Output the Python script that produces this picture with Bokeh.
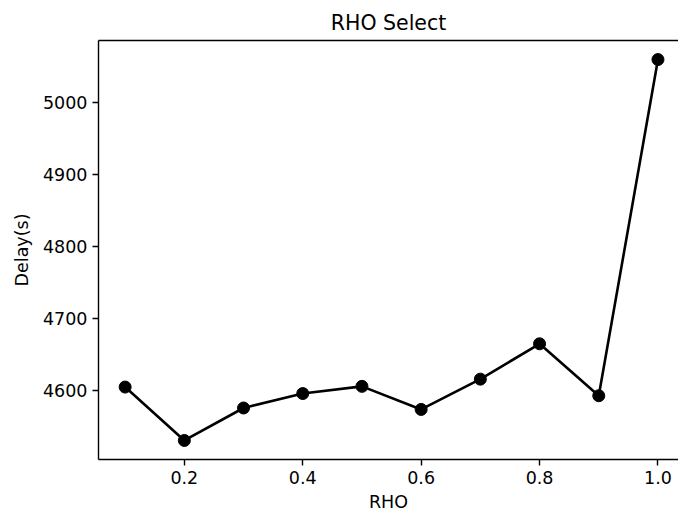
from bokeh.plotting import figure
from bokeh.models import Range1d, FixedTicker, LinearAxis
from bokeh.embed import file_html
from bokeh.resources import INLINE

rho = [0.1, 0.2, 0.3, 0.4, 0.5, 0.6, 0.7, 0.8, 0.9, 1.0]
delay = [4605, 4531, 4576, 4596, 4606, 4574, 4616, 4665, 4593, 5059]
x_ticks = [0.2, 0.4, 0.6, 0.8, 1.0]
x_tick_labels = ["0.2", "0.4", "0.6", "0.8", "1.0"]
y_ticks = [4600, 4700, 4800, 4900, 5000]
y_tick_labels = ["4600", "4700", "4800", "4900", "5000"]

FONT = "DejaVu Sans"

p = figure(width=678, height=516, output_backend="svg", toolbar_location=None,
           x_range=Range1d(0.055, 1.0347), y_range=Range1d(4504.6, 5085.4),
           min_border_left=98, min_border_right=0, min_border_top=40, min_border_bottom=57,
           title="RHO Select")
p.title.align = "center"
p.title.text_font = FONT
p.title.text_font_size = "20.5px"
p.title.text_font_style = "normal"
p.title.text_color = "black"
p.title.offset = 4
p.title.standoff = 12

p.grid.visible = False
p.outline_line_color = None
p.background_fill_color = "white"
p.border_fill_color = "white"

for ax in (p.xaxis[0], p.yaxis[0]):
    ax.axis_line_color = "black"
    ax.axis_line_width = 1.4
    ax.major_tick_line_color = "black"
    ax.major_tick_line_width = 1.4
    ax.major_tick_out = 6
    ax.major_tick_in = 0
    ax.minor_tick_line_color = None
    ax.major_label_text_font = FONT
    ax.major_label_text_font_size = "17.5px"
    ax.major_label_text_color = "black"
    ax.axis_label_text_font = FONT
    ax.axis_label_text_font_size = "17.5px"
    ax.axis_label_text_font_style = "normal"
    ax.axis_label_text_color = "black"
    ax.major_label_standoff = 5

p.xaxis[0].ticker = FixedTicker(ticks=x_ticks)
p.xaxis[0].major_label_overrides = dict(zip(x_ticks, x_tick_labels))
p.yaxis[0].ticker = FixedTicker(ticks=y_ticks)
p.yaxis[0].major_label_overrides = dict(zip(y_ticks, y_tick_labels))
p.xaxis[0].axis_label = "RHO"
p.yaxis[0].axis_label = "Delay(s)"
p.xaxis[0].axis_label_standoff = 5
p.yaxis[0].axis_label_standoff = 8

top = LinearAxis(axis_line_color="black", axis_line_width=1.4,
                 major_tick_line_color=None, minor_tick_line_color=None,
                 major_label_text_font_size="0px", ticker=FixedTicker(ticks=[]))
p.add_layout(top, "above")

p.line(rho, delay, line_color="black", line_width=2.6)
p.scatter(rho, delay, size=12, fill_color="black", line_color="black")

open("out.html", "w").write(file_html(p, INLINE))
